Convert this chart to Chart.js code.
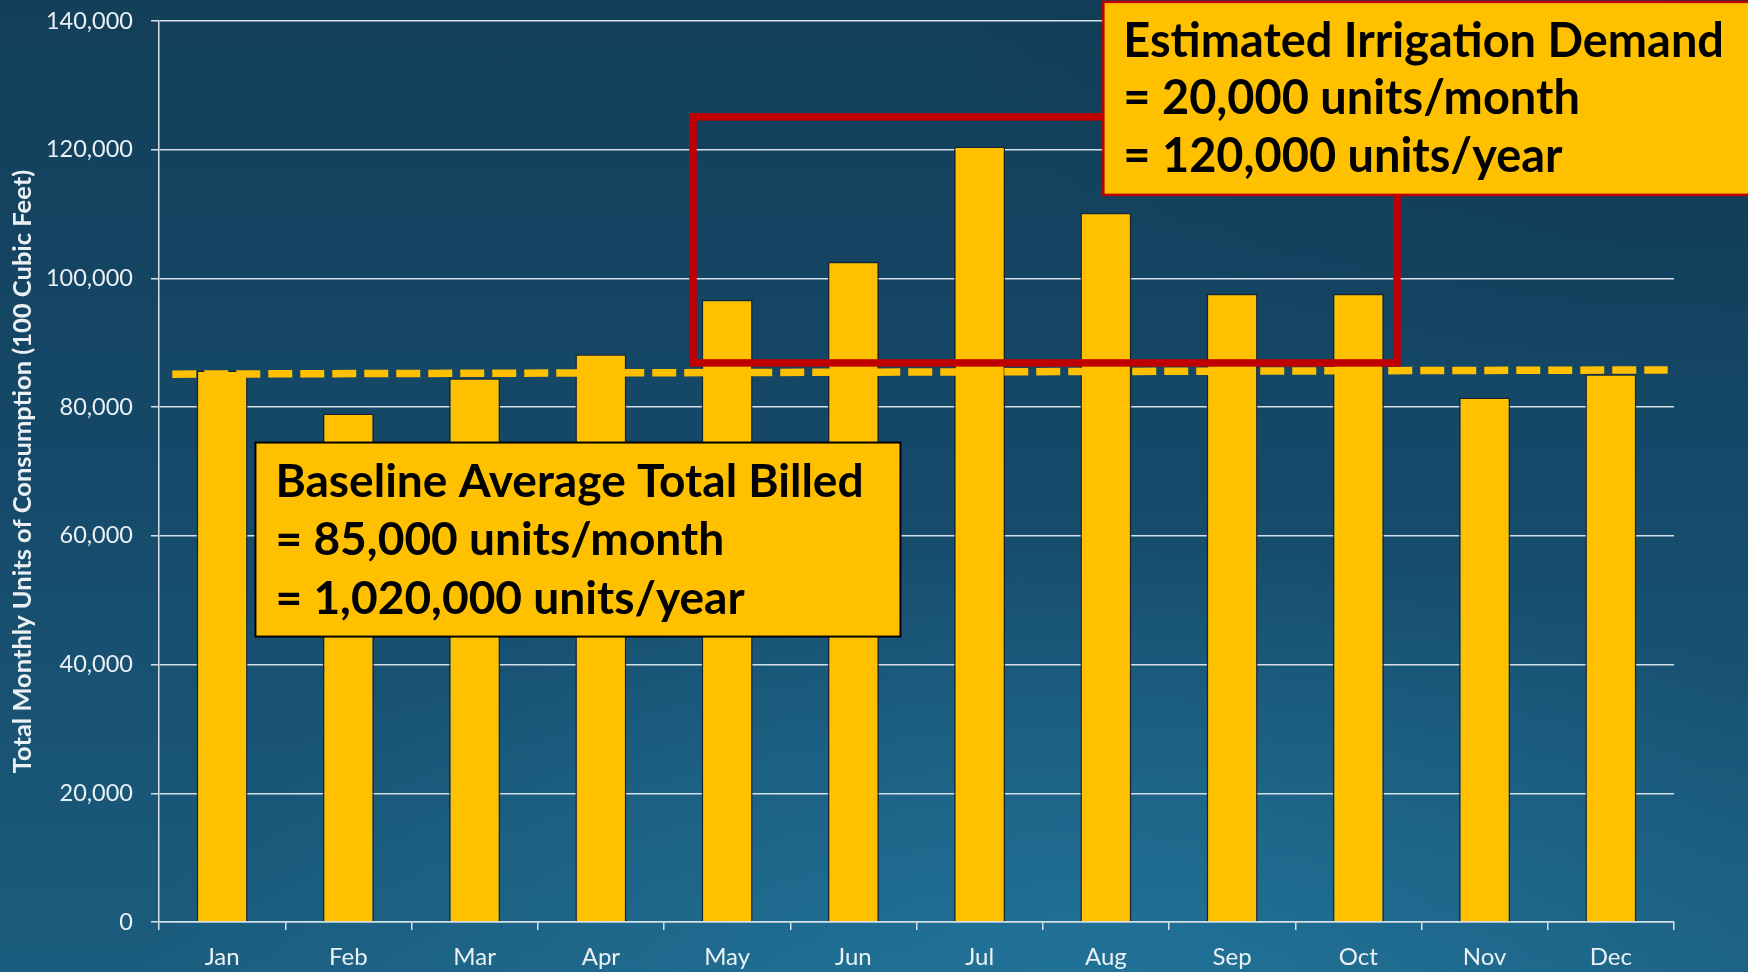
<!DOCTYPE html>
<html>
<head>
<meta charset="utf-8">
<title>Monthly Consumption</title>
<script src="https://cdn.jsdelivr.net/npm/chart.js@4.4.1/dist/chart.umd.min.js"></script>
<style>
  html, body { margin: 0; padding: 0; }
  body {
    width: 1748px;
    height: 972px;
    overflow: hidden;
    background:
      radial-gradient(ellipse 55% 50% at 62% 105%, rgba(36, 124, 164, 0.75) 0%, rgba(36, 124, 164, 0) 100%),
      radial-gradient(ellipse 45% 40% at 100% 0%, rgba(12, 48, 70, 0.6) 0%, rgba(12, 48, 70, 0) 100%),
      linear-gradient(180deg, #133f59 0%, #154868 45%, #1b5d7e 100%);
  }
  #wrap { position: relative; width: 1748px; height: 972px; }
</style>
</head>
<body>
<div id="wrap"><canvas id="chart"></canvas></div>
<script>
  'use strict';

  // -- Data --
  var months = ['Jan', 'Feb', 'Mar', 'Apr', 'May', 'Jun', 'Jul', 'Aug', 'Sep', 'Oct', 'Nov', 'Dec'];
  var consumption = [85700, 79000, 84500, 88200, 96700, 102600, 120500, 110200, 97600, 97600, 81500, 85100];

  // baseline average (dashed line), read at its two ends
  var baselineX = [0.105, 11.95];
  var baselineY = [85130, 85790];

  var yTicks = [0, 20000, 40000, 60000, 80000, 100000, 120000, 140000];

  var baselineText = ['Baseline Average Total Billed', '= 85,000 units/month', '= 1,020,000 units/year'];
  var irrigationText = ['Estimated Irrigation Demand', '= 20,000 units/month', '= 120,000 units/year'];

  var gold = '#FFC000';
  var gridColor = '#d6e0e8';
  var textColor = '#eaf0f4';

  // -- Annotations (red frame + two callout boxes) --
  function fitFont(ctx, text, target) {
    ctx.font = 'bold 100px Lato';
    return 100 * target / ctx.measureText(text).width;
  }

  function drawCallout(chart, box) {
    var ctx = chart.ctx;
    var xs = chart.scales.xl, ys = chart.scales.y;
    var x1 = xs.getPixelForValue(box.x[0]), x2 = xs.getPixelForValue(box.x[1]);
    var y1 = ys.getPixelForValue(box.y[0]), y2 = ys.getPixelForValue(box.y[1]);
    ctx.save();
    ctx.fillStyle = gold;
    ctx.fillRect(x1, y1, x2 - x1, y2 - y1);
    ctx.lineWidth = box.borderWidth;
    ctx.strokeStyle = box.border;
    ctx.strokeRect(x1, y1, x2 - x1, y2 - y1);

    var size = fitFont(ctx, box.lines[0], box.textWidth);
    ctx.font = 'bold ' + size.toFixed(1) + 'px Lato';
    ctx.fillStyle = '#000';
    ctx.textBaseline = 'middle';
    var h = y2 - y1;
    for (var i = 0; i < box.lines.length; i++) {
      ctx.fillText(box.lines[i], x1 + 20, y1 + h * (0.205 + i * 0.3));
    }
    ctx.restore();
  }

  var annotations = {
    id: 'annotations',
    afterDatasetsDraw: function (chart) {
      var ctx = chart.ctx;
      var xs = chart.scales.xl, ys = chart.scales.y;

      // irrigation frame
      var fx1 = xs.getPixelForValue(4.23), fx2 = xs.getPixelForValue(9.806);
      var fy1 = ys.getPixelForValue(125100), fy2 = ys.getPixelForValue(86870);
      ctx.save();
      ctx.strokeStyle = '#C00000';
      ctx.lineWidth = 7.5;
      ctx.strokeRect(fx1, fy1, fx2 - fx1, fy2 - fy1);
      ctx.restore();

      drawCallout(chart, {
        x: [0.764, 5.873], y: [74500, 44350],
        border: '#000', borderWidth: 2,
        lines: baselineText, textWidth: 588
      });
      drawCallout(chart, {
        x: [7.48, 12.7], y: [142970, 112980],
        border: '#C00000', borderWidth: 2.5,
        lines: irrigationText, textWidth: 601
      });
    }
  };

  new Chart(document.getElementById('chart').getContext('2d'), {
    type: 'bar',
    data: {
      labels: months,
      datasets: [
        {
          type: 'line',
          label: 'Baseline',
          xAxisID: 'xl',
          data: baselineX.map(function (x, i) { return { x: x, y: baselineY[i] }; }),
          borderColor: gold,
          borderWidth: 7.5,
          borderDash: [24, 8],
          pointRadius: 0,
          fill: false,
          order: 0
        },
        {
          label: 'Consumption',
          xAxisID: 'x',
          data: consumption,
          backgroundColor: gold,
          borderColor: '#172434',
          borderWidth: 1.5,
          grouped: false,
          categoryPercentage: 1,
          barPercentage: 0.404,
          order: 1
        }
      ]
    },
    options: {
      responsive: true,
      maintainAspectRatio: false,
      animation: false,
      layout: { padding: { top: 21, right: 74, left: 0, bottom: 0 } },
      plugins: {
        legend: { display: false },
        tooltip: { enabled: false }
      },
      scales: {
        x: {
          afterFit: function (scale) { scale.height = 50; },
          grid: {
            display: true,
            drawOnChartArea: false,
            drawTicks: true,
            tickLength: 8,
            color: gridColor,
            lineWidth: 1.5
          },
          border: { display: true, color: gridColor, width: 1.5 },
          ticks: {
            color: textColor,
            padding: 13,
            font: { family: 'Lato', size: 24 }
          }
        },
        xl: {
          type: 'linear',
          display: false,
          offset: false,
          grid: { offset: false },
          min: 0,
          max: 12
        },
        y: {
          min: 0,
          max: 140000,
          afterFit: function (scale) {
            scale.width = 159;
            scale.paddingTop = 0;
            scale.paddingBottom = 0;
          },
          afterBuildTicks: function (scale) {
            scale.ticks = yTicks.map(function (v) { return { value: v }; });
          },
          grid: {
            color: gridColor,
            lineWidth: 1.5,
            tickLength: 8
          },
          border: { display: true, color: gridColor, width: 1.5 },
          ticks: {
            color: textColor,
            padding: 18,
            font: { family: 'Lato', size: 23.5 },
            callback: function (v) { return v.toLocaleString('en-US'); }
          },
          title: {
            display: true,
            text: 'Total Monthly Units of Consumption (100 Cubic Feet)',
            color: textColor,
            padding: { top: 7, bottom: 0 },
            font: { family: 'Lato', size: 25.5, weight: 'bold' }
          }
        }
      }
    },
    plugins: [annotations]
  });
</script>
</body>
</html>
